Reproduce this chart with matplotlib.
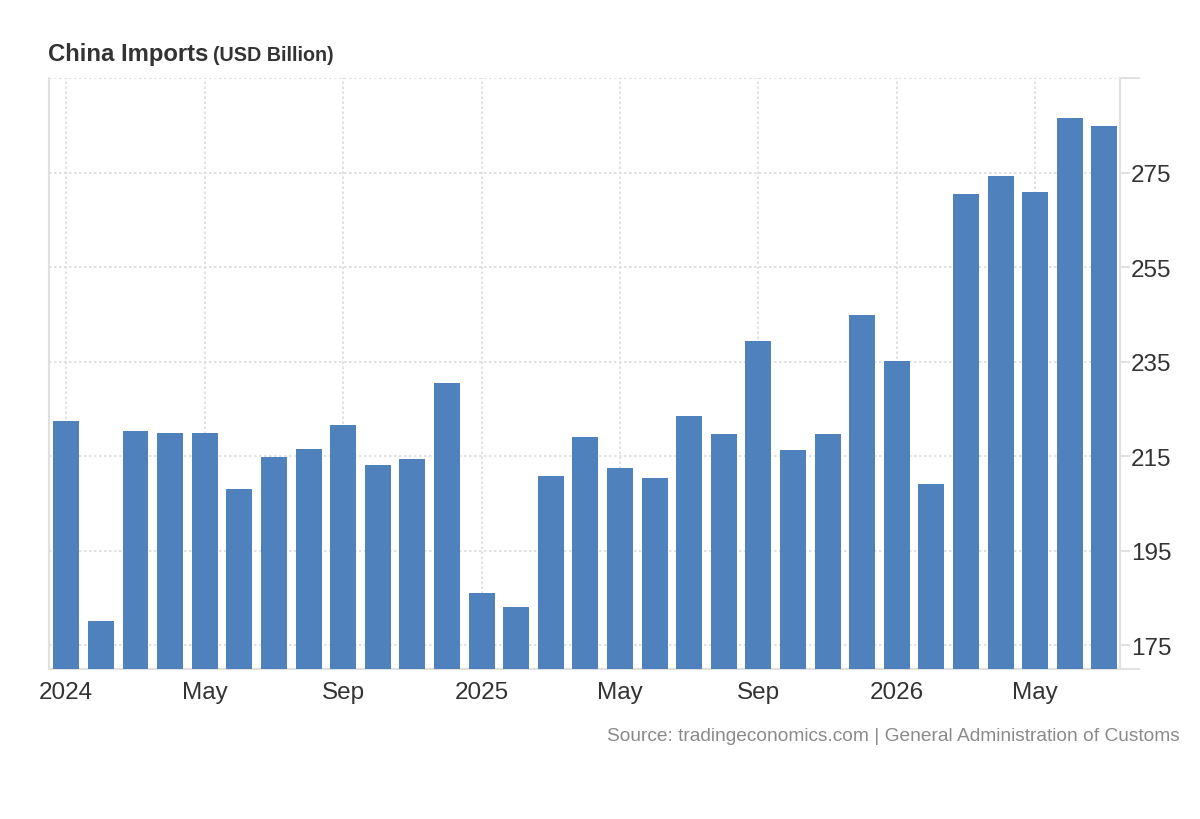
import numpy as np
import matplotlib
matplotlib.use('Agg')
import matplotlib.pyplot as plt
from matplotlib.ticker import FixedLocator

# China imports, monthly, Jan 2024 - Jul 2026 (USD billion)
months = ['Jan', 'Feb', 'Mar', 'Apr', 'May', 'Jun', 'Jul', 'Aug', 'Sep', 'Oct', 'Nov', 'Dec'] * 2 + \
         ['Jan', 'Feb', 'Mar', 'Apr', 'May', 'Jun', 'Jul']
imports = [222.4, 180.2, 220.3, 219.9, 219.9, 208.0, 214.8, 216.5, 221.6, 213.1, 214.4, 230.5,
           186.1, 183.2, 210.9, 219.0, 212.6, 210.5, 223.6, 219.8, 239.4, 216.4, 219.8, 244.9,
           235.1, 209.2, 270.4, 274.2, 270.8, 286.5, 284.8]
xtick_pos = [0, 4, 8, 12, 16, 20, 24, 28]
xtick_lbl = ['2024', 'May', 'Sep', '2025', 'May', 'Sep', '2026', 'May']
ytick_pos = [175, 195, 215, 235, 255, 275]

plt.rcParams['font.family'] = ['Liberation Sans', 'DejaVu Sans']

bar_col = '#4f81bd'
grid_col = '#dcdcdc'
txt_col = '#333333'

fig = plt.figure(figsize=(12, 8.2), dpi=100)
ax = fig.add_axes([49/1200, 1 - 670/820, (1120 - 49)/1200, (670 - 79)/820])

x = np.arange(len(imports))
ax.bar(x, imports, width=0.75, color=bar_col, zorder=3)

ax.set_xlim(-0.5, 30.45)
ax.set_ylim(170, 295)

ax.set_xticks(xtick_pos)
ax.set_xticklabels(xtick_lbl)
ax.set_yticks(ytick_pos)
ax.yaxis.set_minor_locator(FixedLocator([170, 295]))
ax.yaxis.tick_right()

ax.tick_params(axis='x', length=0, pad=9, labelsize=17.5, labelcolor=txt_col)
ax.tick_params(axis='y', which='major', length=7.2, width=1.2, color=grid_col,
               pad=0.5, labelsize=17.5, labelcolor=txt_col)
ax.tick_params(axis='y', which='minor', length=14.4, width=1.2, color=grid_col)

ax.grid(True, which='major', color=grid_col, linestyle=(0, (1.5, 1.5)), linewidth=1.2, zorder=0)
ax.grid(True, which='minor', axis='y', color=grid_col, linestyle=(0, (1.5, 1.5)), linewidth=1.2, zorder=0)

for side in ['left', 'right', 'bottom']:
    ax.spines[side].set_color('#e0e0e0')
    ax.spines[side].set_linewidth(1.5)
ax.spines['top'].set_visible(False)

# Title with smaller unit part
t = fig.text(48/1200, 1 - 61/820, 'China Imports', fontsize=17.2, fontweight='bold', color=txt_col)
fig.canvas.draw()
bb = t.get_window_extent()
fig.text((bb.x1 + 5)/1200, 1 - 61/820, '(USD Billion)', fontsize=14.2, fontweight='bold', color=txt_col)

fig.text(1180/1200, 1 - 741/820, 'Source: tradingeconomics.com | General Administration of Customs',
         fontsize=13.8, color='#8a8a8a', ha='right')

fig.savefig('out.png', dpi=100)
